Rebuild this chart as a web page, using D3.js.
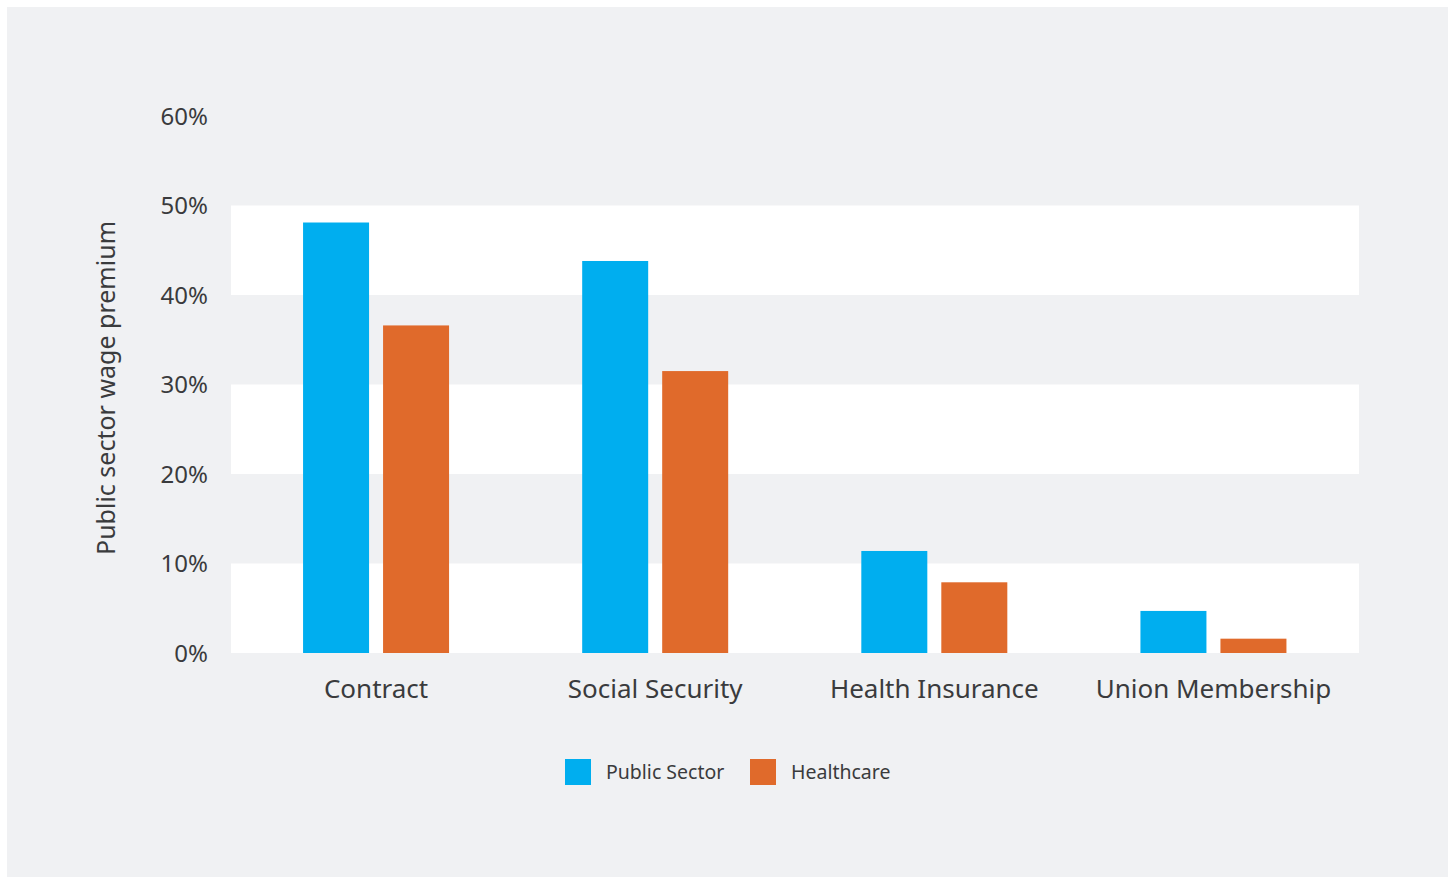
<!DOCTYPE html>
<html>
<head>
<meta charset="utf-8">
<script src="https://cdn.jsdelivr.net/npm/d3@7"></script>
<style>
  body { margin: 0; background: #ffffff; }
  svg { display: block; }
  text { font-family: "Noto Sans", "Open Sans", sans-serif; fill: #3a3b3d; }
</style>
</head>
<body>
<div id="chart"></div>
<script>
const categories = ["Contract", "Social Security", "Health Insurance", "Union Membership"];
const seriesNames = ["Public Sector", "Healthcare"];
const publicSector = [48.1, 43.8, 11.4, 4.7];
const healthcare = [36.6, 31.5, 7.9, 1.6];
const yTicks = [0, 10, 20, 30, 40, 50, 60];
const colors = ["#00aeef", "#e06a2b"];

const width = 1448, height = 877;
const svg = d3.select("#chart").append("svg")
  .attr("width", width)
  .attr("height", height);

// background panel
svg.append("rect")
  .attr("x", 7).attr("y", 7)
  .attr("width", width - 7).attr("height", height - 7)
  .attr("fill", "#f0f1f3");

const plotLeft = 231, plotRight = 1359;

const y = d3.scaleLinear().domain([0, 60]).range([653, 116]);

const x = d3.scaleBand()
  .domain(categories)
  .range([236.5, 1353])
  .paddingInner(0);

// two bars of 66px with a 14px gap
const xSub = d3.scaleBand()
  .domain(seriesNames)
  .range([0, 146])
  .paddingInner(0.175);

// alternating white bands
const bands = yTicks.slice(0, -1).filter((d, i) => i % 2 === 0 && d < 50);
svg.selectAll(".band")
  .data(bands)
  .enter()
  .append("rect")
  .attr("class", "band")
  .attr("x", plotLeft)
  .attr("width", plotRight - plotLeft)
  .attr("y", d => y(d + 10))
  .attr("height", d => y(d) - y(d + 10))
  .attr("fill", "#ffffff");

// y axis
const yAxis = d3.axisLeft(y)
  .tickValues(yTicks)
  .tickFormat(d => d + "%")
  .tickSize(0)
  .tickPadding(0);

const yg = svg.append("g")
  .attr("transform", "translate(208,0)")
  .call(yAxis);
yg.select(".domain").remove();
yg.selectAll("text")
  .style("font-size", "24px")
  .attr("dy", "0.35em")
  .style("fill", "#3a3b3d")
  .style("font-family", "'Noto Sans', sans-serif");

// x axis
const xAxis = d3.axisBottom(x).tickSize(0).tickPadding(0);
const xg = svg.append("g")
  .attr("transform", "translate(0,680)")
  .call(xAxis);
xg.select(".domain").remove();
xg.selectAll("text")
  .style("font-size", "26px")
  .attr("dy", "0.71em")
  .style("fill", "#3a3b3d")
  .style("font-family", "'Noto Sans', sans-serif");

// bars
const rows = categories.map((c, i) => ({
  cat: c,
  vals: [publicSector[i], healthcare[i]]
}));

const groups = svg.selectAll(".grp")
  .data(rows)
  .enter()
  .append("g")
  .attr("class", "grp")
  .attr("transform", d => `translate(${x(d.cat) + x.bandwidth() / 2 - 73},0)`);

groups.selectAll("rect")
  .data(d => d.vals.map((v, j) => ({ name: seriesNames[j], v: v, j: j })))
  .enter()
  .append("rect")
  .attr("x", d => xSub(d.name))
  .attr("width", xSub.bandwidth())
  .attr("y", d => y(d.v))
  .attr("height", d => y(0) - y(d.v))
  .attr("fill", d => colors[d.j]);

// y axis title
svg.append("text")
  .attr("transform", "translate(115,388) rotate(-90)")
  .attr("text-anchor", "middle")
  .style("font-size", "25px")
  .text("Public sector wage premium");

// legend
const legendX = [565, 750];
const legend = svg.selectAll(".leg")
  .data(seriesNames)
  .enter()
  .append("g")
  .attr("class", "leg")
  .attr("transform", (d, i) => `translate(${legendX[i]},759)`);

legend.append("rect")
  .attr("width", 26)
  .attr("height", 26)
  .attr("fill", (d, i) => colors[i]);

legend.append("text")
  .attr("x", 41)
  .attr("y", 13)
  .attr("dy", "0.35em")
  .style("font-size", "19.5px")
  .text(d => d);
</script>
</body>
</html>
